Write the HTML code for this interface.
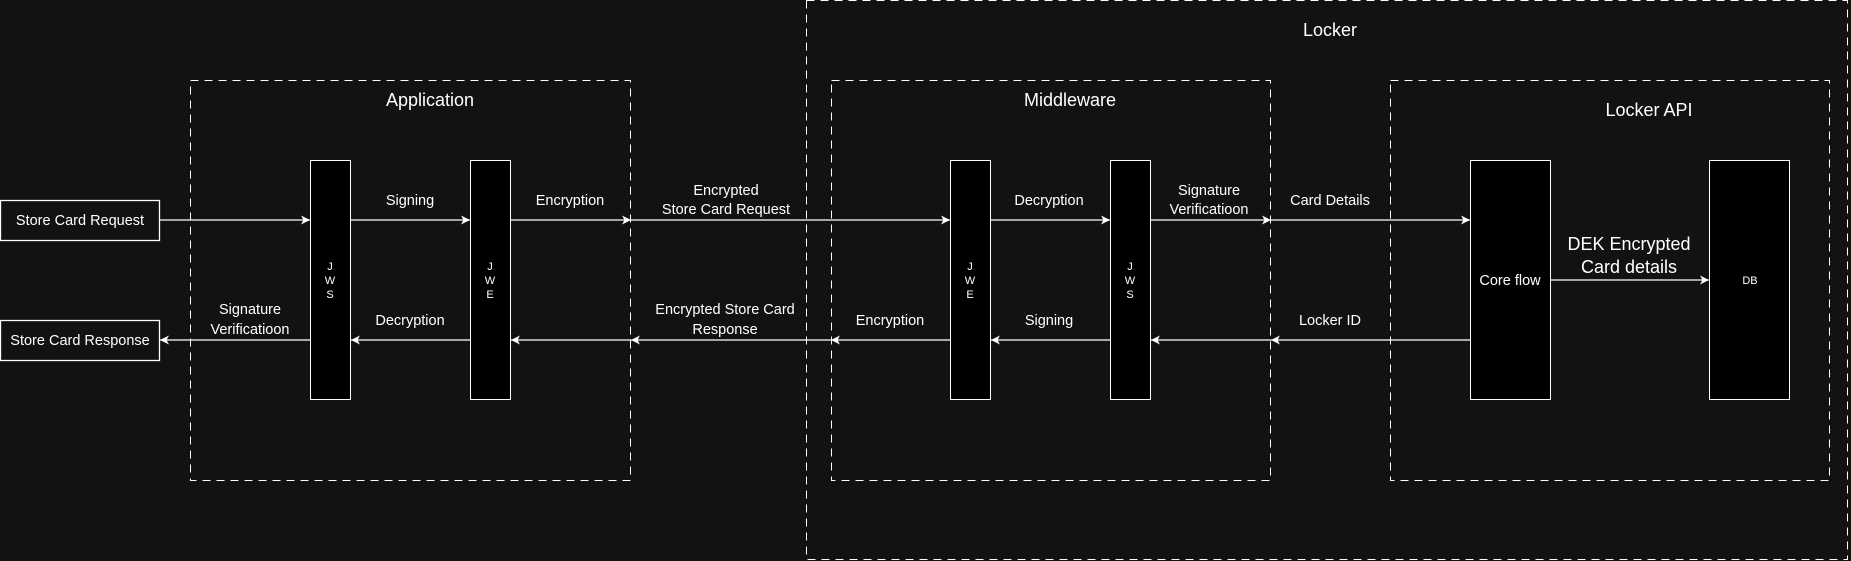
<!DOCTYPE html>
<html><head><meta charset="utf-8"><style>
html,body{margin:0;padding:0;background:#121212;}
svg{display:block;}
text{font-family:"Liberation Sans",Arial,sans-serif;fill:#fff;text-anchor:middle;}
.l{font-size:14.5px;}
.t{font-size:18px;}
.s{font-size:11px;}
</style></head><body>
<svg width="1851" height="561" viewBox="0 0 1851 561" xmlns="http://www.w3.org/2000/svg">
<defs>
<marker id="a" markerWidth="10" markerHeight="10" refX="9" refY="5" orient="auto" markerUnits="userSpaceOnUse">
<path d="M0,0.5 L9,5 L0,9.5 L2.5,5 Z" fill="#fff"/>
</marker>
</defs>
<rect x="0" y="0" width="1851" height="561" fill="#121212"/>
<g fill="none" stroke="#fff" stroke-width="1" stroke-dasharray="8,6">
<rect x="806.5" y="0.5" width="1041" height="559"/>
<rect x="190.5" y="80.5" width="440" height="400"/>
<rect x="831.5" y="80.5" width="439" height="400"/>
<rect x="1390.5" y="80.5" width="439" height="400"/>
</g>
<g fill="none" stroke="#fff" stroke-width="1.3">
<rect x="0.5" y="200.5" width="159" height="40"/>
<rect x="0.5" y="320.5" width="159" height="40"/>
</g>
<g fill="#000" stroke="#fff" stroke-width="1">
<rect x="310.5" y="160.5" width="40" height="239"/>
<rect x="470.5" y="160.5" width="40" height="239"/>
<rect x="950.5" y="160.5" width="40" height="239"/>
<rect x="1110.5" y="160.5" width="40" height="239"/>
<rect x="1470.5" y="160.5" width="80" height="239"/>
<rect x="1709.5" y="160.5" width="80" height="239"/>
</g>
<g stroke="#fff" stroke-width="1.3" marker-end="url(#a)">
<line x1="160" y1="220" x2="310" y2="220"/>
<line x1="351" y1="220" x2="470" y2="220"/>
<line x1="511" y1="220" x2="631" y2="220"/>
<line x1="631" y1="220" x2="950" y2="220"/>
<line x1="991" y1="220" x2="1110" y2="220"/>
<line x1="1151" y1="220" x2="1271" y2="220"/>
<line x1="1271" y1="220" x2="1470" y2="220"/>
<line x1="1551" y1="280" x2="1709" y2="280"/>
<line x1="1470" y1="340" x2="1271" y2="340"/>
<line x1="1271" y1="340" x2="1151" y2="340"/>
<line x1="1110" y1="340" x2="991" y2="340"/>
<line x1="950" y1="340" x2="831" y2="340"/>
<line x1="831" y1="340" x2="631" y2="340"/>
<line x1="631" y1="340" x2="511" y2="340"/>
<line x1="470" y1="340" x2="351" y2="340"/>
<line x1="310" y1="340" x2="160" y2="340"/>
</g>
<text class="l" x="80" y="225">Store Card Request</text>
<text class="l" x="80" y="345">Store Card Response</text>
<text class="t" x="430" y="106">Application</text>
<text class="t" x="1330" y="36">Locker</text>
<text class="t" x="1070" y="106">Middleware</text>
<text class="t" x="1649" y="116">Locker API</text>
<g class="s">
<text class="s" x="330" y="270">J</text><text class="s" x="330" y="284">W</text><text class="s" x="330" y="298">S</text>
<text class="s" x="490" y="270">J</text><text class="s" x="490" y="284">W</text><text class="s" x="490" y="298">E</text>
<text class="s" x="970" y="270">J</text><text class="s" x="970" y="284">W</text><text class="s" x="970" y="298">E</text>
<text class="s" x="1130" y="270">J</text><text class="s" x="1130" y="284">W</text><text class="s" x="1130" y="298">S</text>
<text class="s" x="1750" y="284">DB</text>
</g>
<text class="l" x="1510" y="285">Core flow</text>
<text class="t" x="1629" y="250">DEK Encrypted</text>
<text class="t" x="1629" y="273">Card details</text>
<text class="l" x="410" y="205">Signing</text>
<text class="l" x="570" y="205">Encryption</text>
<text class="l" x="726" y="195">Encrypted</text>
<text class="l" x="726" y="214">Store Card Request</text>
<text class="l" x="1049" y="205">Decryption</text>
<text class="l" x="1209" y="195">Signature</text>
<text class="l" x="1209" y="214">Verificatioon</text>
<text class="l" x="1330" y="205">Card Details</text>
<text class="l" x="250" y="314">Signature</text>
<text class="l" x="250" y="334">Verificatioon</text>
<text class="l" x="410" y="325">Decryption</text>
<text class="l" x="725" y="314">Encrypted  Store Card</text>
<text class="l" x="725" y="334">Response</text>
<text class="l" x="890" y="325">Encryption</text>
<text class="l" x="1049" y="325">Signing</text>
<text class="l" x="1330" y="325">Locker ID</text>
</svg>
</body></html>
